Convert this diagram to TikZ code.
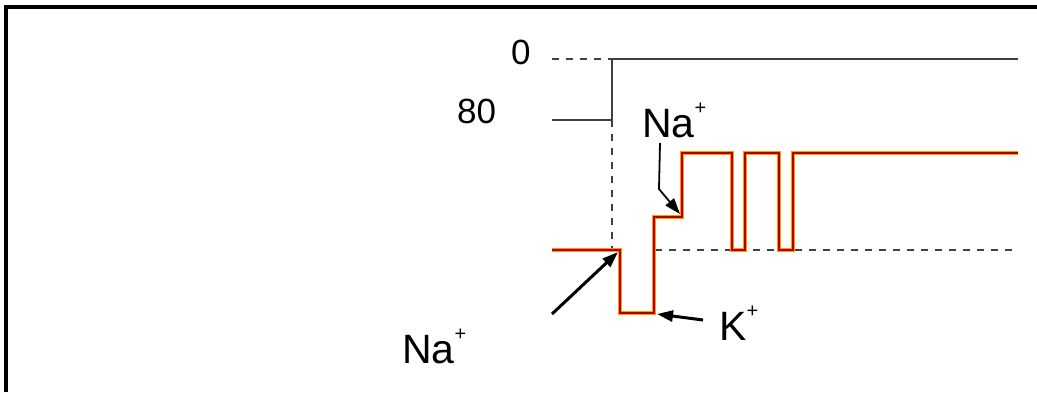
\documentclass[tikz,border=0pt]{standalone}
\usepackage{fontspec}
\setmainfont{Liberation Sans}
\usetikzlibrary{arrows.meta}

\newcommand{\ionplus}{\raisebox{0.55em}{\fontsize{20}{20}\selectfont+}}

\begin{document}
\begin{tikzpicture}[x=1pt,y=-1pt]
          \tikzset{trace/.style={line width=4.4pt,orange!80!yellow,line join=miter},
                   traceedge/.style={line width=2pt,red!70!black,line join=miter},
                   refline/.style={black!75,line width=1.5pt,dash pattern=on 7pt off 7pt},
                   baseline/.style={black!75,line width=1.6pt},
                   lbl/.style={inner sep=0pt,anchor=base west,font=\fontsize{35}{35}\selectfont},
                   ion/.style={inner sep=0pt,anchor=base west,font=\fontsize{41}{41}\selectfont},
                   pointer/.style={-{Triangle[length=16pt,width=11pt]},line width=3pt}}
          \useasboundingbox (0,0) rectangle (1037,392);
          \draw[line width=3.5pt] (6,392) -- (6,7) -- (1037,7);

          \node[lbl] (zero) at (511,64) {0};
          \node[lbl] (eighty) at (457,123) {80};
          \node[ion] (naUp) at (642,137) {Na\ionplus};
          \node[ion] (naLow) at (402,363) {Na\ionplus};
          \node[ion] (kPlus) at (719,340) {K\ionplus};

          \coordinate (stim) at (612,59);
          \coordinate (rest) at (612,120);
          \draw[refline] (552,59) -- (stim);
          \draw[baseline] (stim) -- (1018,59);
          \draw[baseline] (552,120) -- (rest) -- (stim);
          \draw[refline] (rest) -- (612,250);
          \draw[refline] (655,250) -- (1018,250);

          \foreach \s in {trace,traceedge}
            \draw[\s] (552,250) -- (620,250) -- (620,313) -- (654,313) -- (654,217)
              -- (682,217) -- (682,153) -- (732,153) -- (732,250) -- (745,250)
              -- (745,153) -- (779,153) -- (779,250) -- (793,250) -- (793,153)
              -- (1018,153);

          \coordinate (naUpTail) at (660,143);
          \coordinate (naUpBend) at (659,189);
          \coordinate (naUpTip) at (680,214);
          \coordinate (naLowTail) at (552,314);
          \coordinate (naLowTip) at (618,252);
          \coordinate (kTail) at (703,320);
          \coordinate (kTip) at (657,314);
          \draw[pointer,line width=1.8pt] (naUpTail) -- (naUpBend) -- (naUpTip);
          \draw[pointer] (naLowTail) -- (naLowTip);
          \draw[pointer] (kTail) -- (kTip);
        \end{tikzpicture}
\end{document}
